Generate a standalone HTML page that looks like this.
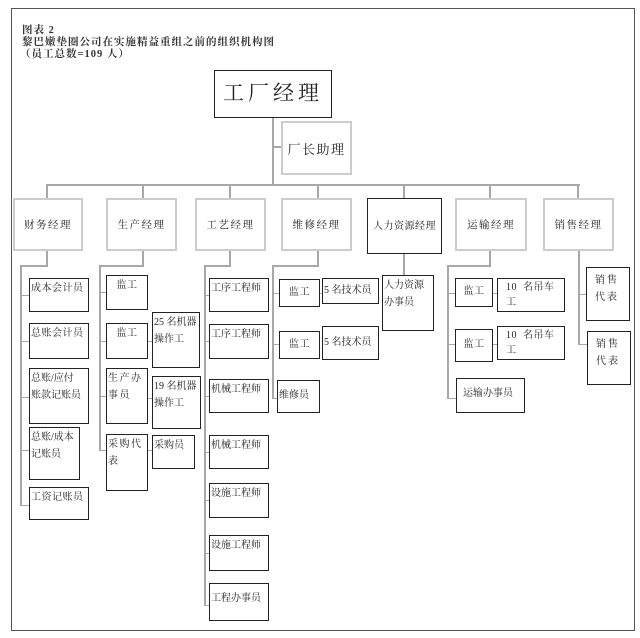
<!DOCTYPE html>
<html><head><meta charset="utf-8"><style>
body{margin:0;width:640px;height:638px;background:#fff;position:relative;overflow:hidden;font-family:"Liberation Serif","Noto Serif CJK SC",serif;color:#222}
div{position:absolute;box-sizing:border-box}
.frame{left:11px;top:8px;width:624px;height:623px;border:1.5px solid #555}
.l{background:#a8a8a8}
.b{border:1.5px solid #222;font-size:10px;line-height:17px;padding:1px 1px;letter-spacing:0.5px;background:#fff}
.g{border:2px solid #ccc;font-size:10.5px;display:flex;align-items:center;justify-content:center;letter-spacing:1.5px;background:#fff}
.t{font-size:10.5px;line-height:12px;left:22px;letter-spacing:1px;font-weight:bold;color:#333}
</style></head><body>
<div class="frame"></div>
<div class="t" style="top:25px">图表 2</div>
<div class="t" style="top:37px">黎巴嫩垫圈公司在实施精益重组之前的组织机构图</div>
<div class="t" style="top:49px;left:20px">（员工总数=109 人）</div>

<div class="l" style="left:272px;top:118px;width:2px;height:68px"></div>
<div class="l" style="left:272px;top:146px;width:9px;height:2px"></div>
<div class="l" style="left:46px;top:184px;width:534px;height:2px"></div>
<div class="l" style="left:46px;top:185px;width:2px;height:13px"></div>
<div class="l" style="left:142px;top:185px;width:2px;height:13px"></div>
<div class="l" style="left:229px;top:185px;width:2px;height:13px"></div>
<div class="l" style="left:317px;top:185px;width:2px;height:13px"></div>
<div class="l" style="left:403px;top:185px;width:2px;height:13px"></div>
<div class="l" style="left:489px;top:185px;width:2px;height:13px"></div>
<div class="l" style="left:577px;top:185px;width:2px;height:13px"></div>
<div class="l" style="left:46px;top:251px;width:2px;height:16px"></div>
<div class="l" style="left:20px;top:265px;width:28px;height:2px"></div>
<div class="l" style="left:20px;top:265px;width:2px;height:241px"></div>
<div class="l" style="left:20px;top:295px;width:9px;height:1px"></div>
<div class="l" style="left:20px;top:341px;width:9px;height:1px"></div>
<div class="l" style="left:20px;top:397px;width:9px;height:1px"></div>
<div class="l" style="left:20px;top:450px;width:9px;height:1px"></div>
<div class="l" style="left:20px;top:505px;width:9px;height:1px"></div>
<div class="l" style="left:142px;top:251px;width:2px;height:16px"></div>
<div class="l" style="left:99px;top:265px;width:45px;height:2px"></div>
<div class="l" style="left:99px;top:265px;width:2px;height:186px"></div>
<div class="l" style="left:99px;top:292px;width:7px;height:1px"></div>
<div class="l" style="left:99px;top:341px;width:7px;height:1px"></div>
<div class="l" style="left:99px;top:396px;width:7px;height:1px"></div>
<div class="l" style="left:99px;top:450px;width:7px;height:1px"></div>
<div class="l" style="left:148px;top:341px;width:4px;height:1px"></div>
<div class="l" style="left:148px;top:398px;width:4px;height:1px"></div>
<div class="l" style="left:148px;top:450px;width:4px;height:1px"></div>
<div class="l" style="left:229px;top:251px;width:2px;height:16px"></div>
<div class="l" style="left:204px;top:265px;width:27px;height:2px"></div>
<div class="l" style="left:204px;top:265px;width:2px;height:341px"></div>
<div class="l" style="left:204px;top:295px;width:5px;height:1px"></div>
<div class="l" style="left:204px;top:341px;width:5px;height:1px"></div>
<div class="l" style="left:204px;top:396px;width:5px;height:1px"></div>
<div class="l" style="left:204px;top:452px;width:5px;height:1px"></div>
<div class="l" style="left:204px;top:500px;width:5px;height:1px"></div>
<div class="l" style="left:204px;top:553px;width:5px;height:1px"></div>
<div class="l" style="left:204px;top:605px;width:5px;height:1px"></div>
<div class="l" style="left:317px;top:251px;width:2px;height:16px"></div>
<div class="l" style="left:272px;top:265px;width:47px;height:2px"></div>
<div class="l" style="left:272px;top:265px;width:2px;height:134px"></div>
<div class="l" style="left:272px;top:293px;width:7px;height:1px"></div>
<div class="l" style="left:272px;top:344px;width:7px;height:1px"></div>
<div class="l" style="left:272px;top:398px;width:5px;height:1px"></div>
<div class="l" style="left:320px;top:293px;width:2px;height:1px"></div>
<div class="l" style="left:403px;top:254px;width:2px;height:21px"></div>
<div class="l" style="left:489px;top:251px;width:2px;height:16px"></div>
<div class="l" style="left:447px;top:265px;width:44px;height:2px"></div>
<div class="l" style="left:447px;top:265px;width:2px;height:134px"></div>
<div class="l" style="left:447px;top:293px;width:8px;height:1px"></div>
<div class="l" style="left:447px;top:344px;width:8px;height:1px"></div>
<div class="l" style="left:447px;top:398px;width:9px;height:1px"></div>
<div class="l" style="left:493px;top:293px;width:4px;height:1px"></div>
<div class="l" style="left:493px;top:344px;width:4px;height:1px"></div>
<div class="l" style="left:578px;top:251px;width:2px;height:94px"></div>
<div class="l" style="left:578px;top:294px;width:8px;height:1px"></div>
<div class="l" style="left:578px;top:344px;width:9px;height:1px"></div>

<div class="b" style="left:214px;top:70px;width:118px;height:48px;font-size:21px;line-height:42px;text-align:center;letter-spacing:4px">工厂经理</div>
<div class="g" style="left:281px;top:121px;width:71px;height:54px;font-size:13px">厂长助理</div>

<div class="g" style="left:13px;top:198px;width:70px;height:53px">财务经理</div>
<div class="g" style="left:106px;top:198px;width:71px;height:53px">生产经理</div>
<div class="g" style="left:195px;top:198px;width:71px;height:53px">工艺经理</div>
<div class="g" style="left:281px;top:198px;width:71px;height:53px">维修经理</div>
<div class="b" style="left:367px;top:198px;width:75px;height:56px;display:flex;align-items:center;justify-content:center;letter-spacing:0.5px">人力资源经理</div>
<div class="g" style="left:455px;top:198px;width:72px;height:53px">运输经理</div>
<div class="g" style="left:543px;top:198px;width:71px;height:53px">销售经理</div>

<div class="b" style="left:29px;top:278px;width:60px;height:34px">成本会计员</div>
<div class="b" style="left:29px;top:323px;width:60px;height:36px">总账会计员</div>
<div class="b" style="left:29px;top:368px;width:60px;height:56px;letter-spacing:0">总账/应付<br>账款记账员</div>
<div class="b" style="left:29px;top:427px;width:51px;height:53px;letter-spacing:0">总账/成本<br>记账员</div>
<div class="b" style="left:29px;top:487px;width:60px;height:33px">工资记账员</div>

<div class="b" style="left:106px;top:275px;width:42px;height:35px;text-align:center">监工</div>
<div class="b" style="left:106px;top:323px;width:42px;height:36px;text-align:center">监工</div>
<div class="b" style="left:106px;top:368px;width:42px;height:56px;letter-spacing:1.5px;white-space:nowrap">生产办<br>事员</div>
<div class="b" style="left:106px;top:434px;width:42px;height:57px;letter-spacing:1.5px;white-space:nowrap">采购代<br>表</div>
<div class="b" style="left:152px;top:312px;width:48px;height:56px;letter-spacing:0">25 名机器<br>操作工</div>
<div class="b" style="left:152px;top:376px;width:49px;height:53px;letter-spacing:0">19 名机器<br>操作工</div>
<div class="b" style="left:152px;top:435px;width:43px;height:34px;letter-spacing:0">采购员</div>

<div class="b" style="left:209px;top:278px;width:60px;height:34px;letter-spacing:0">工序工程师</div>
<div class="b" style="left:209px;top:324px;width:60px;height:35px;letter-spacing:0">工序工程师</div>
<div class="b" style="left:209px;top:379px;width:60px;height:34px;letter-spacing:0">机械工程师</div>
<div class="b" style="left:209px;top:435px;width:60px;height:34px;letter-spacing:0">机械工程师</div>
<div class="b" style="left:209px;top:483px;width:60px;height:35px;letter-spacing:0">设施工程师</div>
<div class="b" style="left:209px;top:535px;width:60px;height:36px;letter-spacing:0">设施工程师</div>
<div class="b" style="left:209px;top:583px;width:60px;height:38px;letter-spacing:0;padding-top:6px">工程办事员</div>

<div class="b" style="left:279px;top:279px;width:41px;height:28px;text-align:center;line-height:24px">监工</div>
<div class="b" style="left:322px;top:278px;width:57px;height:26px;line-height:22px;letter-spacing:0">5 名技术员</div>
<div class="b" style="left:279px;top:331px;width:41px;height:28px;text-align:center;line-height:24px">监工</div>
<div class="b" style="left:322px;top:326px;width:57px;height:34px;line-height:30px;letter-spacing:0">5 名技术员</div>
<div class="b" style="left:277px;top:380px;width:43px;height:33px;line-height:28px;letter-spacing:0">维修员</div>

<div class="b" style="left:382px;top:275px;width:52px;height:56px;letter-spacing:0">人力资源<br>办事员</div>

<div class="b" style="left:455px;top:278px;width:38px;height:29px;text-align:center;line-height:24px">监工</div>
<div class="b" style="left:497px;top:278px;width:68px;height:34px;padding-left:8px;line-height:15px">10&nbsp; 名吊车<br>工</div>
<div class="b" style="left:455px;top:329px;width:38px;height:33px;text-align:center;line-height:28px">监工</div>
<div class="b" style="left:497px;top:326px;width:68px;height:34px;padding-left:8px;line-height:15px">10&nbsp; 名吊车<br>工</div>
<div class="b" style="left:456px;top:378px;width:69px;height:35px;line-height:28px;padding-left:6px;letter-spacing:0">运输办事员</div>

<div class="b" style="left:586px;top:267px;width:44px;height:54px;padding:4px 8px;letter-spacing:2px">销售<br>代表</div>
<div class="b" style="left:587px;top:331px;width:44px;height:54px;padding:4px 8px;letter-spacing:2px">销售<br>代表</div>
</body></html>
